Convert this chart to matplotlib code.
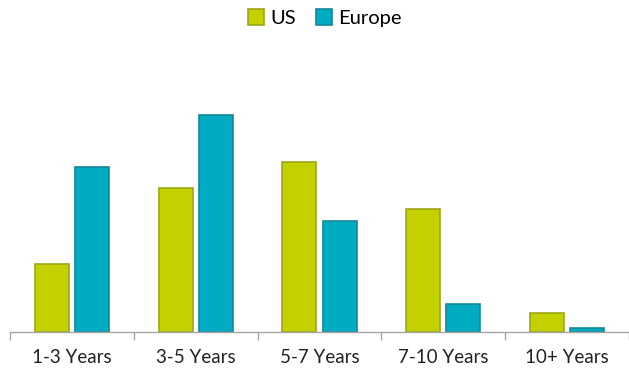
import numpy as np
import matplotlib.pyplot as plt

plt.rcParams['font.family'] = ['Lato', 'DejaVu Sans']

categories = ['1-3 Years', '3-5 Years', '5-7 Years', '7-10 Years', '10+ Years']
us = [9.4, 19.9, 23.5, 17.0, 2.6]
europe = [22.8, 30.0, 15.3, 3.9, 0.6]

fig = plt.figure(figsize=(6.29, 3.72), dpi=100)
ax = fig.add_axes([10 / 629, 40 / 372, 619 / 629, 292 / 372])

x = np.arange(len(categories)) + 0.5
w = 0.275
ax.bar(x - 0.162, us, width=w, color='#C4D100', edgecolor='#9DA71A', linewidth=1.2, label='US')
ax.bar(x + 0.162, europe, width=w, color='#00ACC1', edgecolor='#14899A', linewidth=1.2, label='Europe')

ax.set_xlim(0, 5)
ax.set_ylim(0, 40.4)
ax.set_yticks([])
for s in ['top', 'right', 'left']:
    ax.spines[s].set_visible(False)
ax.spines['bottom'].set_color('#A6A6A6')
ax.spines['bottom'].set_linewidth(1)

ax.set_xticks(np.arange(0, 6))
ax.set_xticklabels([])
ax.tick_params(axis='x', length=6, color='#A6A6A6', width=1)
ax.set_xticks(x, minor=True)
ax.set_xticklabels(categories, minor=True, fontsize=13.5, color='#222222')
ax.tick_params(axis='x', which='minor', length=0, pad=12)

fig.legend(loc='center', bbox_to_anchor=(325 / 629, 1 - 18 / 372), ncol=2, frameon=False,
           fontsize=14.5, handlelength=0.8, handleheight=0.8, handletextpad=0.3, columnspacing=1.0)

fig.savefig('out.png', dpi=100)
